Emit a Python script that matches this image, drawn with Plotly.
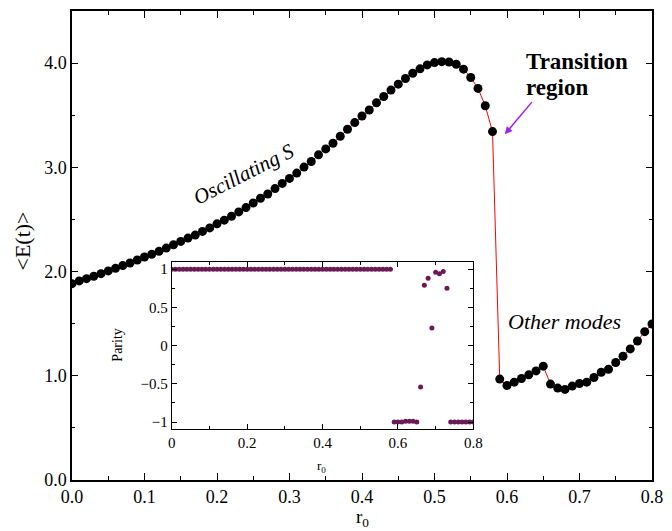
import plotly.graph_objects as go

# Mean energy <E(t)> versus r0
r0 = [round(0.01 * i, 2) for i in range(81)]
energy = [
    1.884, 1.910, 1.932, 1.955, 1.980, 2.006, 2.031, 2.057, 2.082, 2.111,
    2.140, 2.165, 2.194, 2.225, 2.257, 2.289, 2.321, 2.350, 2.385, 2.419,
    2.458, 2.493, 2.531, 2.572, 2.614, 2.658, 2.703, 2.744, 2.796, 2.846,
    2.894, 2.945, 3.002, 3.056, 3.120, 3.177, 3.231, 3.298, 3.365, 3.429,
    3.493, 3.550, 3.620, 3.680, 3.741, 3.798, 3.852, 3.903, 3.945, 3.983,
    4.005, 4.014, 4.011, 3.989, 3.942, 3.862, 3.757, 3.591, 3.343, 0.968,
    0.907, 0.939, 0.974, 1.009, 1.047, 1.092, 0.920, 0.882, 0.869, 0.901,
    0.926, 0.939, 0.984, 1.034, 1.063, 1.127, 1.187, 1.258, 1.334, 1.423,
    1.497,
]

# Parity of the mode versus r0 (inset)
parity = (
    [1.0] * 59
    + [-1.0, -1.0, -1.0, -0.99, -0.99, -0.99, -1.0]
    + [-0.54, 0.79, 0.88, 0.23, 0.96, 0.94, 0.97, 0.75]
    + [-1.0] * 7
)

main_ticks = [0.0, 0.1, 0.2, 0.3, 0.4, 0.5, 0.6, 0.7, 0.8]
energy_ticks = [0.0, 1.0, 2.0, 3.0, 4.0]
inset_xticks = [0, 0.2, 0.4, 0.6, 0.8]
inset_yticks = [-1, -0.5, 0, 0.5, 1]

SERIF = "Times New Roman, Liberation Serif, DejaVu Serif, serif"

fig = go.Figure()

fig.add_trace(go.Scatter(
    x=r0, y=energy, mode="lines+markers",
    line=dict(color="red", width=1),
    marker=dict(color="black", size=9),
    xaxis="x", yaxis="y", showlegend=False,
))

fig.add_trace(go.Scatter(
    x=r0, y=parity, mode="markers",
    marker=dict(color="#6a1b56", size=5),
    xaxis="x2", yaxis="y2", showlegend=False,
))

axis_common = dict(
    showline=True, linecolor="black", mirror="ticks",
    ticks="inside", tickcolor="black", showgrid=False, zeroline=False,
)

fig.update_layout(
    width=672, height=531,
    margin=dict(l=72, r=13, t=9, b=51),
    paper_bgcolor="white", plot_bgcolor="white",
    font=dict(family=SERIF, color="black"),
    xaxis=dict(
        **axis_common, domain=[0, 1], range=[0, 0.8], linewidth=1.5,
        tickvals=main_ticks, tickformat=".1f", ticklen=7, tickwidth=1,
        minor=dict(dtick=0.05, tick0=0, ticklen=4, ticks="inside", tickcolor="black"),
        tickfont=dict(size=18, family=SERIF),
    ),
    yaxis=dict(
        **axis_common, domain=[0, 1], range=[0, 4.5], linewidth=1.5,
        tickvals=energy_ticks, tickformat=".1f", ticklen=6, tickwidth=1,
        minor=dict(dtick=0.5, tick0=0, ticklen=3.5, ticks="inside", tickcolor="black"),
        tickfont=dict(size=18, family=SERIF),
    ),
    xaxis2=dict(
        **axis_common, domain=[0.172, 0.692], range=[0, 0.8], anchor="y2",
        linewidth=1.2, tickvals=inset_xticks, ticklen=5, tickwidth=1,
        minor=dict(dtick=0.1, tick0=0, ticklen=3, ticks="inside", tickcolor="black"),
        tickfont=dict(size=15, family=SERIF),
    ),
    yaxis2=dict(
        **axis_common, domain=[0.108, 0.465], range=[-1.095, 1.095], anchor="x2",
        linewidth=1.2, tickvals=inset_yticks, ticklen=5, tickwidth=1,
        minor=dict(dtick=0.25, tick0=0, ticklen=3, ticks="inside", tickcolor="black"),
        tickfont=dict(size=15, family=SERIF),
    ),
)

annotations = [
    # main axis titles
    dict(text="r<sub>0</sub>", xref="paper", yref="paper", x=0.5, y=0.0,
         yshift=-51, xanchor="center", yanchor="bottom", showarrow=False,
         borderpad=0, font=dict(size=19, family=SERIF)),
    dict(text="&lt;E(t)&gt;", xref="paper", yref="paper", x=-0.085, y=0.51,
         xanchor="center", yanchor="middle", showarrow=False, textangle=-90,
         font=dict(size=22, family=SERIF)),
    # inset axis titles
    dict(text="r<sub>0</sub>", xref="paper", yref="paper", x=0.43, y=0.028,
         xanchor="center", yanchor="middle", showarrow=False,
         font=dict(size=13, family=SERIF)),
    dict(text="Parity", xref="paper", yref="paper", x=0.078, y=0.287,
         xanchor="center", yanchor="middle", showarrow=False, textangle=-90,
         font=dict(size=14, family=SERIF)),
    # curve labels
    dict(text="<i>Oscillating S</i>", xref="x", yref="y", x=0.237, y=2.935,
         xanchor="center", yanchor="middle", showarrow=False, textangle=-27,
         font=dict(size=21, family=SERIF)),
    dict(text="<i>Other modes</i>", xref="x", yref="y", x=0.598, y=1.523,
         xanchor="left", yanchor="middle", showarrow=False,
         font=dict(size=22, family=SERIF)),
    dict(text="<b>Transition</b>", xref="x", yref="y", x=0.623, y=4.02,
         xanchor="left", yanchor="middle", showarrow=False,
         font=dict(size=23, family=SERIF)),
    dict(text="<b>region</b>", xref="x", yref="y", x=0.623, y=3.765,
         xanchor="left", yanchor="middle", showarrow=False,
         font=dict(size=23, family=SERIF)),
    # arrow to the transition point
    dict(text="", xref="x", yref="y", axref="x", ayref="y",
         x=0.597, y=3.317, ax=0.636, ay=3.64,
         showarrow=True, arrowhead=2, arrowsize=1, arrowwidth=1.5,
         arrowcolor="#A020F0"),
]
fig.update_layout(annotations=annotations)

fig.write_html("out.html")
